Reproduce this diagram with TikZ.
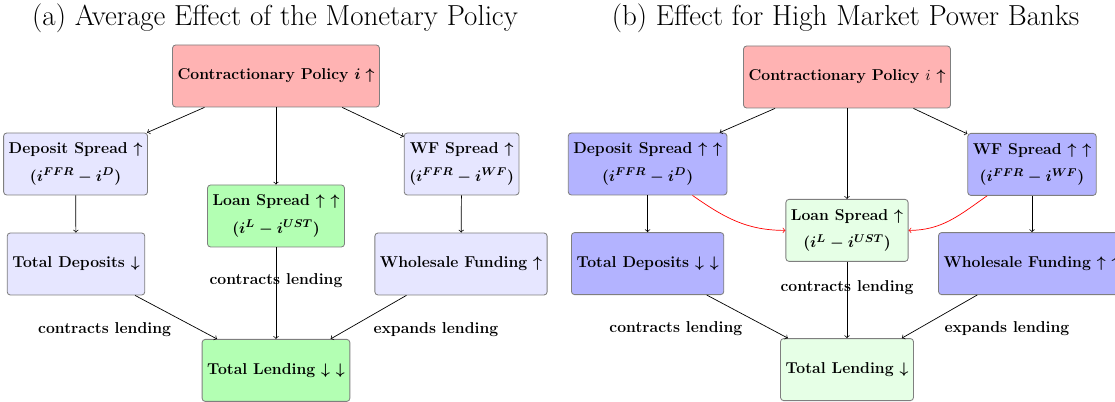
\documentclass[tikz,border=0pt]{standalone}
\usepackage{amsmath,amssymb}
\usepackage{xcolor}
\usepackage{tikz}
\definecolor{policy}{HTML}{FFB3B3}
\definecolor{paleblue}{HTML}{E6E6FF}
\definecolor{deepblue}{HTML}{B3B3FF}
\definecolor{midgreen}{HTML}{B3FFB3}
\definecolor{palegreen}{HTML}{E6FFE6}
\definecolor{frame}{HTML}{7F7F7F}
\tikzset{
  box/.style={draw=frame, line width=0.6pt, rounded corners=2.2pt, align=center,
    minimum height=1.55cm, inner xsep=3.6pt,
    font=\fontsize{11.2}{13}\selectfont\bfseries\boldmath},
  polbox/.style={box, fill=policy},
  softbox/.style={box, fill=paleblue},
  hardbox/.style={box, fill=deepblue},
  greenbox/.style={box, fill=midgreen},
  paleg/.style={box, fill=palegreen},
  link/.style={->, draw=black, line width=0.5pt},
  push/.style={->, draw=red, line width=0.5pt},
  lab/.style={font=\fontsize{11.2}{13}\selectfont\bfseries, text=black},
  ttl/.style={font=\fontsize{20.6}{24}\selectfont, anchor=base},
}

\begin{document}
\begin{tikzpicture}
  \clip (0,0) rectangle (27.875,10.05);

  % (a) average effect
  \node[ttl] (ta) at (6.875,9.42) {(a) Average Effect of the Monetary Policy};
  \node[polbox] (pol1) at (6.9,8.15) {Contractionary Policy $i\uparrow$};
  \node[softbox] (dep1) at (1.89,5.95) {Deposit Spread $\uparrow$\\[6.5pt] $(i^{FFR}-i^{D})$};
  \node[softbox] (wf1) at (11.54,5.95) {WF Spread $\uparrow$\\[6.5pt] $(i^{FFR}-i^{WF})$};
  \node[greenbox] (loan1) at (6.9,4.65) {Loan Spread $\uparrow$ $\uparrow$\\[6.5pt] $(i^{L}-i^{UST})$};
  \node[softbox] (tdep1) at (1.9,3.45) {Total Deposits $\downarrow$};
  \node[softbox] (wfund1) at (11.525,3.45) {Wholesale Funding $\uparrow$};
  \node[greenbox] (tlend1) at (6.9,0.79) {Total Lending $\downarrow$ $\downarrow$};

  \draw[link] (pol1) -- (dep1);
  \draw[link] (pol1) -- (wf1);
  \draw[link] (pol1) -- (loan1);
  \draw[link] (dep1) -- (tdep1);
  \draw[link] (wf1) -- (wfund1);
  \draw[link] (tdep1) -- node[lab, midway, below left] {contracts lending} (tlend1);
  \draw[link] (loan1) -- node[lab, midway, above] {contracts lending} (tlend1);
  \draw[link] (wfund1) -- node[lab, midway, below right] {expands lending} (tlend1);

  % (b) high market power
  \node[ttl] (tb) at (21.14,9.42) {(b) Effect for High Market Power Banks};
  \node[polbox] (pol2) at (21.175,8.125) {Contractionary Policy {\unboldmath$i$} $\uparrow$};
  \node[hardbox] (dep2) at (16.19,5.95) {Deposit Spread $\uparrow$ $\uparrow$\\[6.5pt] $(i^{FFR}-i^{D})$};
  \node[hardbox] (wf2) at (25.8,5.94) {WF Spread $\uparrow$ $\uparrow$\\[6.5pt] $(i^{FFR}-i^{WF})$};
  \node[paleg] (loan2) at (21.175,4.29) {Loan Spread $\uparrow$\\[6.5pt] $(i^{L}-i^{UST})$};
  \node[hardbox] (tdep2) at (16.19,3.46) {Total Deposits $\downarrow$ $\downarrow$};
  \node[hardbox] (wfund2) at (25.8,3.46) {Wholesale Funding $\uparrow$ $\uparrow$};
  \node[paleg] (tlend2) at (21.175,0.81) {Total Lending $\downarrow$};

  \draw[link] (pol2) -- (dep2);
  \draw[link] (pol2) -- (wf2);
  \draw[link] (pol2) -- (loan2);
  \draw[link] (dep2) -- (tdep2);
  \draw[link] (wf2) -- (wfund2);
  \draw[push] (dep2) to[out=-35, in=180] (loan2);
  \draw[push] (wf2) to[out=-145, in=0] (loan2);
  \draw[link] (tdep2) -- node[lab, midway, below left] {contracts lending} (tlend2);
  \draw[link] (loan2) -- node[lab, midway, above] {contracts lending} (tlend2);
  \draw[link] (wfund2) -- node[lab, midway, below right] {expands lending} (tlend2);
\end{tikzpicture}
\end{document}
